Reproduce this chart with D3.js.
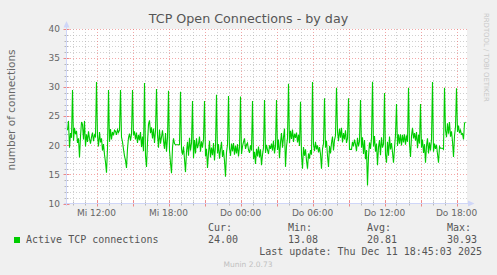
<!DOCTYPE html>
<html><head><meta charset="utf-8">
<script src="https://cdn.jsdelivr.net/npm/d3@7"></script>
<style>
html,body{margin:0;padding:0;background:#f0f0f0;}
svg{display:block;}
</style>
</head><body>
<script>
// ---- data ----
const title = "TCP Open Connections - by day";
const yLabel = "number of connections";
const yMajorTicks = [10, 15, 20, 25, 30, 35, 40];
const xTickLabels = ["Mi 12:00", "Mi 18:00", "Do 00:00", "Do 06:00", "Do 12:00", "Do 18:00"];
const xTickTimes = ["2025-12-10T12:00", "2025-12-10T18:00", "2025-12-11T00:00", "2025-12-11T06:00", "2025-12-11T12:00", "2025-12-11T18:00"];
const seriesName = "Active TCP connections";
const legendHeads = ["Cur:", "Min:", "Avg:", "Max:"];
const legendValues = ["24.00", "13.08", "20.81", "30.93"];
const lastUpdate = "Last update: Thu Dec 11 18:45:03 2025";
const footer = "Munin 2.0.73";
const sideText = "RRDTOOL / TOBI OETIKER";
const domainStart = "2025-12-10T09:30";
const domainEnd = "2025-12-11T18:50";
const stepMinutes = 5;
// one value per 5 minutes, first sample at 09:35 (Wed), last at 18:45 (Thu)
const connections = [
22.6,24.2,19.6,22.1,21.3,29.5,20.8,23.0,21.9,22.5,20.4,21.2,
17.9,21.5,24.0,23.6,21.0,24.2,19.8,21.9,20.6,22.4,21.1,20.3,
21.4,22.2,20.7,21.8,21.5,30.9,21.6,19.8,22.3,20.5,21.2,19.1,
20.2,18.4,17.1,15.3,19.5,29.5,20.6,22.8,21.0,22.3,21.7,22.6,
22.4,21.8,22.7,22.2,22.6,29.5,21.4,20.6,19.3,18.2,17.4,16.1,
19.4,21.3,22.0,20.8,21.9,29.5,21.7,22.4,21.0,22.2,20.4,21.8,
20.9,22.3,19.7,21.5,19.0,30.7,18.2,16.3,20.5,23.6,24.3,22.1,
23.1,21.2,22.9,20.4,22.5,29.7,21.8,19.6,22.7,20.3,21.4,22.6,
20.8,19.4,22.1,18.9,21.3,29.4,19.1,17.0,15.2,19.6,21.2,20.3,
20.1,20.1,20.1,20.1,20.1,29.2,19.3,18.4,19.8,17.6,15.4,18.9,
20.6,18.2,21.3,19.1,20.4,27.6,17.8,20.9,18.6,21.2,19.5,20.2,
21.5,18.9,20.7,19.6,21.0,27.6,18.1,19.4,16.1,18.7,20.8,17.9,
19.6,18.3,20.4,17.4,19.9,28.7,18.6,20.2,17.7,19.3,20.6,18.0,
19.2,17.3,14.6,18.8,20.1,28.5,19.5,18.2,20.3,19.0,20.4,18.4,
19.9,18.6,20.2,18.1,19.7,28.4,18.5,19.8,20.6,21.2,19.4,20.1,
20.4,19.2,18.7,20.0,19.1,27.6,17.6,18.9,16.8,19.4,18.1,19.8,
17.9,19.3,16.6,18.4,19.6,27.8,18.7,20.1,19.2,18.5,20.0,19.4,
20.3,19.1,20.8,18.6,19.9,27.8,19.2,21.0,17.8,20.5,22.1,19.6,
21.4,22.9,16.3,19.8,21.2,30.6,20.4,22.5,21.1,22.7,20.6,22.0,
21.3,22.2,20.5,21.8,19.9,27.5,18.4,16.0,19.7,18.2,19.3,17.4,
16.0,18.6,17.7,19.2,18.4,30.9,20.2,19.0,20.6,19.3,20.0,18.8,
19.7,18.5,16.0,19.4,20.3,28.1,19.6,20.8,18.2,16.3,19.9,18.6,
20.4,21.5,19.1,20.9,21.7,29.9,22.4,20.7,22.9,21.3,23.0,20.5,
22.1,21.0,22.6,20.4,21.2,28.1,19.3,19.3,19.3,20.6,19.8,21.0,
20.2,19.0,21.3,19.8,20.7,27.8,19.6,21.4,18.5,20.9,17.6,19.2,
13.08,18.1,20.5,19.4,21.2,30.93,19.8,21.6,18.9,20.3,16.6,19.7,
20.9,18.3,21.4,19.6,20.2,29.0,18.4,17.0,20.6,18.2,21.5,19.3,
20.4,18.8,17.0,19.5,21.8,27.1,19.9,21.9,20.3,21.9,20.0,21.8,
20.5,21.9,20.1,21.7,20.6,29.9,20.2,18.0,21.6,23.0,21.2,22.1,
20.8,22.3,19.5,21.8,20.3,27.1,19.6,21.0,18.7,20.2,17.0,19.9,
21.2,18.6,20.5,19.1,21.0,30.9,18.9,20.3,19.4,20.1,18.5,17.0,
19.8,19.5,19.5,19.5,19.3,29.9,22.6,21.4,23.8,22.0,24.0,21.5,
22.4,20.7,18.0,21.6,23.2,29.8,22.3,23.4,22.1,22.6,21.9,22.0,
21.0,23.8,24.0
];

// ---- drawing ----
const W = 497, H = 275;
const svg = d3.select("body").append("svg").attr("width", W).attr("height", H);
svg.append("rect").attr("width", W).attr("height", H).attr("fill", "#f0f0f0");

const t0 = new Date(domainStart), t1 = new Date(domainEnd);
const x = d3.scaleTime().domain([t0, t1]).range([66.5, 466.5]);
const y = d3.scaleLinear().domain([10, 40]).range([203.5, 29]);
const px = v => Math.round(v) + 0.5;

// canvas
svg.append("rect").attr("x", 67).attr("y", 29).attr("width", 400).attr("height", 174).attr("fill", "#ffffff");

const SANS = "DejaVu Sans, sans-serif";
const MONO = "DejaVu Sans Mono, monospace";
const grid = svg.append("g");
const minorGrid = "rgba(170,170,170,0.55)";
const majorGrid = "rgba(235,110,110,0.6)";

// horizontal grid
const yAll = d3.range(10, 41, 1);
yAll.forEach(v => {
  const isMajor = v % 5 === 0;
  if (v !== 10) {
    grid.append("line").attr("x1", 67).attr("x2", 467).attr("y1", px(y(v))).attr("y2", px(y(v)))
      .attr("stroke", isMajor ? majorGrid : minorGrid).attr("stroke-width", 1).attr("stroke-dasharray", "1,2");
  }
  grid.append("line").attr("x1", isMajor ? 63.5 : 64.5).attr("x2", isMajor ? 69.5 : 68.5)
    .attr("y1", px(y(v))).attr("y2", px(y(v)))
    .attr("stroke", isMajor ? "rgba(235,110,110,0.8)" : "rgba(170,170,170,0.8)");
});
// vertical grid
const hours = d3.timeHour.every(1).range(t0, t1);
hours.forEach(h => {
  const isMajor = h.getHours() % 3 === 0;
  const xp = px(x(h));
  if (xp <= 67) return;
  grid.append("line").attr("x1", xp).attr("x2", xp).attr("y1", 29).attr("y2", 203)
    .attr("stroke", isMajor ? majorGrid : minorGrid).attr("stroke-width", 1).attr("stroke-dasharray", "1,2");
  grid.append("line").attr("x1", xp).attr("x2", xp).attr("y1", isMajor ? 200.5 : 201.5).attr("y2", isMajor ? 206.5 : 205.5)
    .attr("stroke", isMajor ? "rgba(235,110,110,0.8)" : "rgba(170,170,170,0.8)");
});

// axes
const axisColor = "#cfd6f8";
svg.append("line").attr("x1", 64).attr("x2", 470).attr("y1", 203.5).attr("y2", 203.5).attr("stroke", axisColor);
svg.append("line").attr("x1", 66.5).attr("x2", 66.5).attr("y1", 206).attr("y2", 25).attr("stroke", axisColor);
svg.append("path").attr("d", "M63.5,27.5 L69.5,27.5 L66.5,21 Z").attr("fill", axisColor);
svg.append("path").attr("d", "M468,200.5 L468,206.5 L474.5,203.5 Z").attr("fill", axisColor);

// data line
const times = connections.map((v, i) => new Date(t0.getTime() + (i + 1) * stepMinutes * 60000));
const line = d3.line().x((d, i) => x(times[i])).y(d => y(d));
svg.append("path").datum(connections).attr("d", line)
  .attr("fill", "none").attr("stroke", "#00cc00").attr("stroke-width", 1.1).attr("stroke-linejoin", "miter");

// y tick labels
yMajorTicks.forEach(v => {
  svg.append("text").attr("x", 60).attr("y", y(v)).attr("dy", "0.36em").attr("text-anchor", "end")
    .attr("font-family", SANS).attr("font-size", 9).attr("fill", "#666").text(v);
});
// x tick labels
xTickTimes.forEach((t, i) => {
  svg.append("text").attr("x", x(new Date(t))).attr("y", 216).attr("text-anchor", "middle")
    .attr("font-family", SANS).attr("font-size", 9).attr("fill", "#666").text(xTickLabels[i]);
});

// title
svg.append("text").attr("x", 248.5).attr("y", 23).attr("text-anchor", "middle")
  .attr("font-family", SANS).attr("font-size", 12.7).attr("fill", "#555").text(title);
// y label
svg.append("text").attr("transform", "translate(15,110) rotate(-90)").attr("text-anchor", "middle")
  .attr("font-family", SANS).attr("font-size", 10.5).attr("fill", "#666").text(yLabel);
// side watermark
svg.append("text").attr("transform", "translate(484,13) rotate(90)").attr("text-anchor", "start")
  .attr("font-family", SANS).attr("font-size", 6.9).attr("fill", "#c8c8c8").text(sideText);

// legend
svg.append("rect").attr("x", 14).attr("y", 237).attr("width", 6).attr("height", 6).attr("fill", "#00cc00");
svg.append("text").attr("x", 26).attr("y", 243).attr("font-family", MONO).attr("font-size", 10).attr("fill", "#555").text(seriesName);
const colX = [208, 288, 367, 447];
legendHeads.forEach((h, i) => {
  svg.append("text").attr("x", colX[i]).attr("y", 231).attr("font-family", MONO).attr("font-size", 10).attr("fill", "#555").text(h);
  svg.append("text").attr("x", colX[i]).attr("y", 243).attr("font-family", MONO).attr("font-size", 10).attr("fill", "#555").text(legendValues[i]);
});
svg.append("text").attr("x", 482).attr("y", 255).attr("text-anchor", "end").attr("font-family", MONO).attr("font-size", 10).attr("fill", "#555").text(lastUpdate);
svg.append("text").attr("x", 248).attr("y", 267).attr("text-anchor", "middle").attr("font-family", SANS).attr("font-size", 7.5).attr("fill", "#c0c0c0").text(footer);
</script>
</body></html>
